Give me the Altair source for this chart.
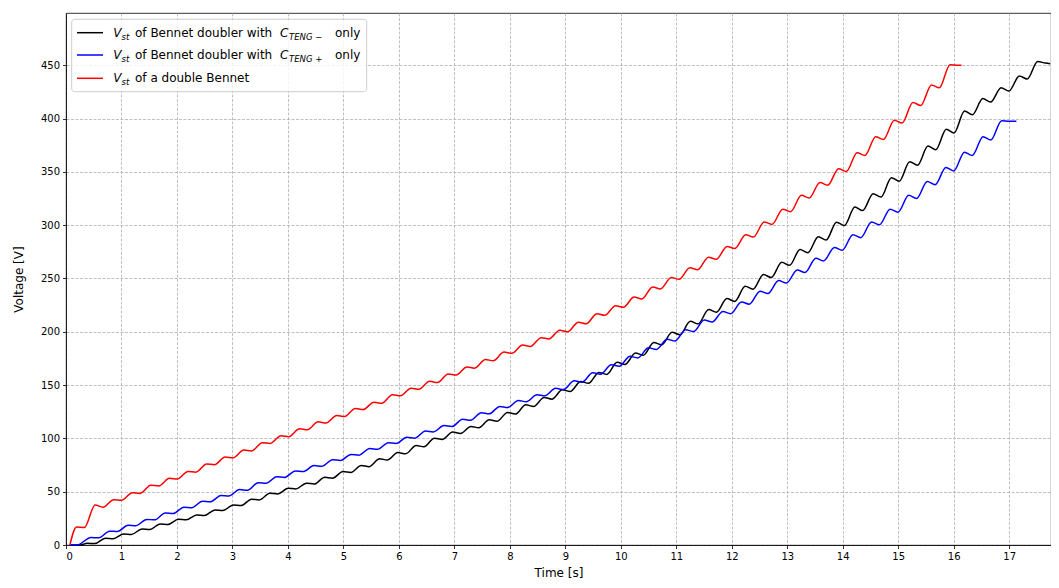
import altair as alt
import pandas as pd

FONT = "DejaVu Sans"

X_TICKS = list(range(0, 18))
Y_TICKS = list(range(0, 451, 50))
X_MAX = 17.754
Y_MAX = 499

# plateau timing: first plateau centre and period per series
HALF = 0.07
RED_T0, RED_PERIOD = 0.26, 0.335
BLACK_T0, BLACK_PERIOD = 0.45, 0.3295
BLUE_T0, BLUE_PERIOD = 0.52, 0.335

# plateau top (start of plateau) and low (end of plateau) values [V]
RED_TOP = [17.0, 37.5, 42.5, 49.0, 56.0, 62.5, 69.0, 76.0, 82.5, 89.0,
           96.0, 102.5, 109.0, 115.5, 121.5, 128.0, 134.0, 141.0, 147.0, 153.5,
           160.5, 167.0, 174.0, 181.0, 187.5, 194.5, 201.5, 209.0, 217.0, 224.5,
           232.5, 242.0, 251.0, 260.0, 270.0, 280.0, 291.0, 303.0, 315.0, 328.0,
           340.0, 353.0, 368.0, 383.0, 398.5, 415.0, 431.5, 450.5]
RED_LOW = [16.3, 35.5, 42.0, 48.4, 55.4, 61.9, 68.3, 75.3, 81.7, 88.2,
           95.2, 101.6, 108.0, 114.5, 120.5, 127.0, 133.0, 140.0, 146.0, 152.4,
           159.4, 165.9, 172.8, 179.8, 186.2, 193.2, 200.0, 207.5, 215.4, 222.9,
           230.8, 240.2, 249.2, 258.1, 268.0, 278.0, 288.8, 300.7, 312.6, 325.5,
           337.5, 350.4, 365.4, 380.4, 395.8, 412.3, 428.8, 450.0]
RED_START = [(0.07, 0.0)]
RED_END = [(16.14, 450.0)]

BLACK_TOP = [1.6, 6.3, 10.3, 15.0, 19.7, 24.1, 28.2, 32.9, 37.6, 42.9,
             48.6, 53.3, 58.0, 63.6, 68.9, 74.5, 80.8, 86.7, 93.3, 100.2, 106.0,
             111.2, 117.4, 124.3, 131.5, 138.4, 145.6, 153.4, 161.9, 171.3, 180.1, 190.0,
             199.5, 209.8, 220.8, 231.1, 242.7, 253.7, 265.2, 277.1, 289.1, 302.8, 317.0,
             329.5, 344.5, 359.5, 374.2, 389.9, 407.0, 418.7, 429.0, 440.0, 453.5]
BLACK_LOW = [1.3, 5.9, 9.9, 14.5, 19.2, 23.6, 27.7, 32.3, 37.0, 42.3,
             47.9, 52.6, 57.2, 62.7, 68.0, 73.5, 79.8, 85.6, 92.2, 99.0, 104.7,
             109.9, 116.0, 122.8, 130.0, 136.8, 144.0, 151.6, 160.0, 169.3, 178.0, 187.8,
             197.2, 207.4, 218.3, 228.5, 240.0, 250.9, 262.3, 274.1, 286.0, 299.6, 313.7,
             326.3, 341.2, 356.2, 370.8, 386.5, 403.5, 415.5, 425.8, 437.0, 452.0]
BLACK_START = [(0.07, 0.0), (0.26, 0.0)]
BLACK_END = [(17.74, 451.5)]

BLUE_TOP = [7.0, 13.0, 18.5, 24.0, 30.0, 35.5, 41.0, 46.5, 52.0, 58.5,
            64.0, 69.5, 74.5, 80.0, 85.0, 90.5, 96.0, 101.0, 107.0, 112.0,
            118.0, 124.0, 130.0, 135.5, 141.0, 147.0, 154.0, 161.5, 169.0, 177.0,
            185.0, 193.0, 202.0, 211.0, 219.0, 228.0, 238.0, 248.0, 258.0, 269.0,
            279.0, 291.0, 303.0, 315.0, 328.0, 341.0, 354.0, 368.5, 383.0, 398.0]
BLUE_LOW = [6.7, 12.6, 18.1, 23.6, 29.5, 35.0, 40.5, 46.0, 51.4, 57.9,
            63.4, 68.9, 73.8, 79.3, 84.3, 89.8, 95.2, 100.2, 106.1, 111.1,
            117.0, 123.0, 129.0, 134.4, 139.9, 145.8, 152.7, 160.2, 167.6, 175.5,
            183.4, 191.3, 200.2, 209.1, 217.0, 225.9, 235.8, 245.7, 255.6, 266.5,
            276.4, 288.3, 300.3, 312.2, 325.1, 338.0, 350.9, 365.4, 379.9, 397.5]
BLUE_START = [(0.07, 0.0), (0.20, 0.0)]
BLUE_END = [(17.13, 397.5)]

COLORS = {"black": "#000000", "blue": "#0000ff", "red": "#ff0000"}


def build(name, t0, period, tops, lows, start, end):
    rows = [{"series": name, "t": t, "v": v} for t, v in start]
    for i, (a, b) in enumerate(zip(tops, lows)):
        tc = t0 + i * period
        rows.append({"series": name, "t": tc - HALF, "v": a})
        rows.append({"series": name, "t": tc + HALF, "v": b})
    rows += [{"series": name, "t": t, "v": v} for t, v in end]
    return rows


df = pd.DataFrame(
    build("black", BLACK_T0, BLACK_PERIOD, BLACK_TOP, BLACK_LOW, BLACK_START, BLACK_END)
    + build("blue", BLUE_T0, BLUE_PERIOD, BLUE_TOP, BLUE_LOW, BLUE_START, BLUE_END)
    + build("red", RED_T0, RED_PERIOD, RED_TOP, RED_LOW, RED_START, RED_END)
)

grid_kw = dict(grid=True, gridDash=[3, 1.5], gridColor="#b0b0b0", gridWidth=0.8)

base = alt.Chart(df).encode(
    x=alt.X("t:Q", scale=alt.Scale(domain=[0, X_MAX], nice=False, zero=False),
            axis=alt.Axis(values=X_TICKS, title="Time [s]", format="d",
                          titlePadding=6, **grid_kw)),
    y=alt.Y("v:Q", scale=alt.Scale(domain=[0, Y_MAX], nice=False),
            axis=alt.Axis(values=Y_TICKS, title="Voltage [V]", format="d",
                          titlePadding=15, **grid_kw)),
)

lines = [
    base.transform_filter(alt.datum.series == s).mark_line(
        interpolate="monotone", color=COLORS[s], strokeWidth=1.5)
    for s in ["black", "blue", "red"]
]

ONE = pd.DataFrame({"k": [0]})


def txt(s, x, y, size=12, italic=False):
    return alt.Chart(ONE).mark_text(
        text=s, font=FONT, fontSize=size, fontStyle="italic" if italic else "normal",
        align="left", baseline="middle", color="black"
    ).encode(x=alt.value(x), y=alt.value(y))


ROW_Y = [19.7, 42.0, 65.3]
SUB_DY = 4
legend_layers = [
    alt.Chart(ONE).mark_rect(cornerRadius=3, fill="white", fillOpacity=0.8,
                             stroke="#cccccc", strokeWidth=1).encode(
        x=alt.value(5.7), x2=alt.value(300.7), y=alt.value(6.3), y2=alt.value(78.7))
]
for ry, s in zip(ROW_Y, ["black", "blue", "red"]):
    legend_layers.append(
        alt.Chart(ONE).mark_rule(color=COLORS[s], strokeWidth=1.5).encode(
            x=alt.value(11), x2=alt.value(37), y=alt.value(ry)))
    legend_layers.append(txt("V", 47.3, ry, 12, True))
    legend_layers.append(txt("st", 55.5, ry + SUB_DY, 8.5, True))

legend_layers += [
    txt("of Bennet doubler with", 69, ROW_Y[0]),
    txt("C", 214, ROW_Y[0], 12, True),
    txt("TENG \u2212", 223, ROW_Y[0] + SUB_DY, 8.5, True),
    txt("only", 269, ROW_Y[0]),
    txt("of Bennet doubler with", 69, ROW_Y[1]),
    txt("C", 214, ROW_Y[1], 12, True),
    txt("TENG +", 223, ROW_Y[1] + SUB_DY, 8.5, True),
    txt("only", 269, ROW_Y[1]),
    txt("of a double Bennet", 69, ROW_Y[2]),
]

chart = alt.layer(*lines, *legend_layers).properties(
    width=985, height=532,
    autosize=alt.AutoSizeParams(type="none"),
    padding={"left": 58, "top": 5, "right": 0, "bottom": 35},
    background="white",
).configure_axis(
    labelFont=FONT, titleFont=FONT, labelFontSize=10, titleFontSize=12,
    labelColor="black", titleColor="black", tickColor="black", domainColor="black",
    tickSize=3.5, tickWidth=0.8, domainWidth=0.8, titleFontWeight="normal",
    labelPadding=3,
).configure_view(stroke="black", strokeWidth=0.8)

chart.save("out.html", embed_options={"renderer": "svg", "actions": False})
